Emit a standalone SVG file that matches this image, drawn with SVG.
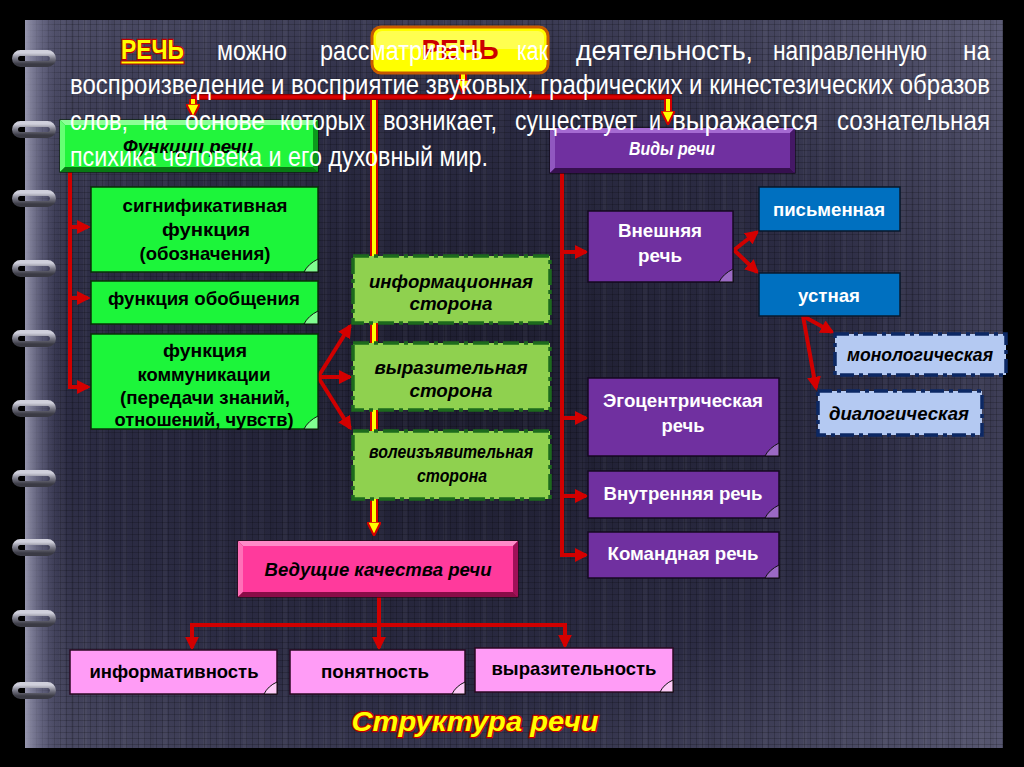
<svg xmlns="http://www.w3.org/2000/svg" width="1024" height="767" viewBox="0 0 1024 767">
<defs>
<radialGradient id="bg" cx="0.45" cy="0.52" r="0.75">
<stop offset="0" stop-color="#1c1c2e"/>
<stop offset="0.55" stop-color="#2c2c44"/>
<stop offset="1" stop-color="#5a5a74"/>
</radialGradient>
<linearGradient id="strip" x1="0" y1="0" x2="1" y2="0">
<stop offset="0" stop-color="#a0a0b8" stop-opacity="0.9"/>
<stop offset="0.5" stop-color="#6a6a88" stop-opacity="0.5"/>
<stop offset="1" stop-color="#4a4a66" stop-opacity="0"/>
</linearGradient>
<linearGradient id="ringg" x1="0" y1="0" x2="0" y2="1">
<stop offset="0" stop-color="#d0d0dc"/>
<stop offset="0.5" stop-color="#7a7a88"/>
<stop offset="1" stop-color="#3a3a44"/>
</linearGradient>
<pattern id="grid" width="6" height="6" patternUnits="userSpaceOnUse">
<path d="M0 0.5H6M0.5 0V6" stroke="#000" stroke-opacity="0.18" stroke-width="1"/>
</pattern>
<pattern id="stripes" width="40" height="10" patternUnits="userSpaceOnUse">
<rect x="3" y="0" width="4" height="10" fill="#fff" fill-opacity="0.03"/>
<rect x="19" y="0" width="6" height="10" fill="#fff" fill-opacity="0.025"/>
<rect x="31" y="0" width="3" height="10" fill="#000" fill-opacity="0.05"/>
</pattern>
<marker id="ar" viewBox="0 0 10 10" refX="8" refY="5" markerWidth="14" markerHeight="14" markerUnits="userSpaceOnUse" orient="auto">
<path d="M0,0 L10,5 L0,10 z" fill="#d40000"/>
</marker>
<marker id="ay" viewBox="0 0 10 10" refX="6" refY="5" markerWidth="14" markerHeight="14" markerUnits="userSpaceOnUse" orient="auto">
<path d="M0,0 L10,5 L0,10 z" fill="#ffff00" stroke="#d40000" stroke-width="1.5"/>
</marker>
<style>
.tx{font-family:"Liberation Sans",Arial,sans-serif}
.par{font-family:"Liberation Sans",Arial,sans-serif;font-size:28px;fill:#ffffff}
.tb{font-family:"Liberation Sans",Arial,sans-serif;font-weight:bold;font-size:19px;text-anchor:middle;fill:#000}
.tw{font-family:"Liberation Sans",Arial,sans-serif;font-weight:bold;font-size:19px;text-anchor:middle;fill:#fff}
.ti{font-family:"Liberation Sans",Arial,sans-serif;font-weight:bold;font-style:italic;font-size:19px;text-anchor:middle;fill:#000}
.gbox{fill:#1cf53a;stroke:#083008;stroke-width:1.5}
.lg{fill:#8fd14f;stroke:#1d6a1d;stroke-width:3.5;stroke-dasharray:16 5 4 5}
.pbox{fill:#7030a0;stroke:#140820;stroke-width:1.5}
.bbox{fill:#0070c0;stroke:#08182c;stroke-width:1.5}
.lb{fill:#b4c9f2;stroke:#0c2864;stroke-width:3.5;stroke-dasharray:14 5 4 5}
.pk{fill:#ff9cf6;stroke:#2a0822;stroke-width:1.5}
.curl{stroke:#111;stroke-width:1;fill-opacity:0.9}
.red{fill:none;stroke:#d00000;stroke-width:4}
.ylo{fill:none;stroke:#d40000;stroke-width:8}
.yli{fill:none;stroke:#ffff00;stroke-width:4}
.ring{fill:none;stroke:url(#ringg);stroke-width:6}
</style>
</defs>
<rect width="1024" height="767" fill="#000"/>
<g id="panel">
<rect x="25" y="20" width="978" height="728" fill="url(#bg)"/>
<rect x="25" y="20" width="978" height="728" fill="url(#stripes)"/>
<rect x="25" y="20" width="978" height="728" fill="url(#grid)"/>
<rect x="25" y="20" width="40" height="728" fill="url(#strip)"/>
</g>
<g id="rings">
<rect class="ring" x="15" y="53" width="38" height="11" rx="5.5"/>
<rect class="ring" x="15" y="124" width="38" height="11" rx="5.5"/>
<rect class="ring" x="15" y="193" width="38" height="11" rx="5.5"/>
<rect class="ring" x="15" y="263" width="38" height="11" rx="5.5"/>
<rect class="ring" x="15" y="333" width="38" height="11" rx="5.5"/>
<rect class="ring" x="15" y="403" width="38" height="11" rx="5.5"/>
<rect class="ring" x="15" y="473" width="38" height="11" rx="5.5"/>
<rect class="ring" x="15" y="542" width="38" height="11" rx="5.5"/>
<rect class="ring" x="15" y="613" width="38" height="11" rx="5.5"/>
<rect class="ring" x="15" y="685" width="38" height="11" rx="5.5"/>
</g>
<g id="connectors">
<path class="ylo" d="M374,97 V530"/>
<path class="yli" d="M374,97 V530" marker-end="url(#ay)"/>
<path class="ylo" d="M463,74 V88"/>
<path class="yli" d="M463,74 V88" marker-end="url(#ay)"/>
<path d="M191,97 H672" fill="none" stroke="#8a0000" stroke-width="6"/>
<path d="M191,97 H672" fill="none" stroke="#dd0000" stroke-width="3.5"/>
<path class="ylo" d="M193,99 V112"/>
<path class="yli" d="M193,99 V112" marker-end="url(#ay)"/>
<path class="ylo" d="M668,99 V119"/>
<path class="yli" d="M668,99 V119" marker-end="url(#ay)"/>
<path class="red" d="M70,172 V387"/>
<path class="red" d="M70,227 H88" marker-end="url(#ar)"/>
<path class="red" d="M70,298 H88" marker-end="url(#ar)"/>
<path class="red" d="M68,387 H88" marker-end="url(#ar)"/>
<path class="red" d="M318,377 L350,326" marker-end="url(#ar)"/>
<path class="red" d="M318,377 H350" marker-end="url(#ar)"/>
<path class="red" d="M318,377 L350,428" marker-end="url(#ar)"/>
<path class="red" d="M562,173 V555"/>
<path class="red" d="M562,252 H586" marker-end="url(#ar)"/>
<path class="red" d="M562,418 H586" marker-end="url(#ar)"/>
<path class="red" d="M562,496 H586" marker-end="url(#ar)"/>
<path class="red" d="M560,555 H586" marker-end="url(#ar)"/>
<path class="red" d="M734,250 L757,232" marker-end="url(#ar)"/>
<path class="red" d="M734,250 L757,272" marker-end="url(#ar)"/>
<path class="red" d="M803,316 L832,332" marker-end="url(#ar)"/>
<path class="red" d="M803,316 L816,388" marker-end="url(#ar)"/>
<path class="red" d="M379,597 V625"/>
<path class="red" d="M190,625 H567"/>
<path class="red" d="M192,623 V648" marker-end="url(#ar)"/>
<path class="red" d="M379,623 V648" marker-end="url(#ar)"/>
<path class="red" d="M565,623 V646" marker-end="url(#ar)"/>
</g>
<g id="rech-top">
<rect x="372" y="27" width="176" height="46" rx="9" fill="#ffff00" stroke="#c85a00" stroke-width="3"/>
<rect x="376" y="31" width="168" height="18" rx="6" fill="#ffffa0" fill-opacity="0.5"/>
<text class="tx" x="460" y="59" text-anchor="middle" font-size="28" font-weight="bold" fill="#cc0000">РЕЧЬ</text>
</g>
<g id="funkcii-rechi">
<rect x="60" y="120" width="258" height="52" fill="#12b424" stroke="#062006" stroke-width="1.2"/>
<polygon points="60,120 318,120 313,125 65,125" fill="#8cff96"/>
<polygon points="60,120 65,125 65,167 60,172" fill="#66ff74"/>
<polygon points="60,172 318,172 313,167 65,167" fill="#087a14"/>
<polygon points="318,120 318,172 313,167 313,125" fill="#0c9a1c"/>
<rect x="65" y="125" width="248" height="42" fill="#22f53c"/>
<text class="ti" x="188" y="153" font-size="18" textLength="130" lengthAdjust="spacingAndGlyphs">Функции речи</text>
</g>
<g id="vidy-rechi">
<rect x="550" y="128" width="245" height="45" fill="#5a2088" stroke="#100418" stroke-width="1.2"/>
<polygon points="550,128 795,128 790,133 555,133" fill="#a56ad2"/>
<polygon points="550,128 555,133 555,168 550,173" fill="#9058c0"/>
<polygon points="550,173 795,173 790,168 555,168" fill="#36104f"/>
<polygon points="795,128 795,173 790,168 790,133" fill="#451866"/>
<rect x="555" y="133" width="235" height="35" fill="#7030a0"/>
<text class="ti" x="672" y="155" font-size="18" style="fill:#fff" textLength="86" lengthAdjust="spacingAndGlyphs">Виды речи</text>
</g>
<g id="signifikativnaya">
<rect class="gbox" x="91" y="187" width="227" height="85"/>
<path class="curl" d="M304,272 Q308,264 318,259 L318,272 Z" fill="#8cff9a"/>
<text class="tb" x="205" y="212" textLength="165" lengthAdjust="spacingAndGlyphs">сигнификативная</text>
<text class="tb" x="206" y="236" textLength="88" lengthAdjust="spacingAndGlyphs">функция</text>
<text class="tb" x="205" y="260" textLength="131" lengthAdjust="spacingAndGlyphs">(обозначения)</text>
</g>
<g id="obobshcheniya">
<rect class="gbox" x="91" y="281" width="227" height="43"/>
<path class="curl" d="M304,324 Q308,316 318,311 L318,324 Z" fill="#8cff9a"/>
<text class="tb" x="204" y="305" textLength="192" lengthAdjust="spacingAndGlyphs">функция обобщения</text>
</g>
<g id="kommunikacii">
<rect class="gbox" x="91" y="334" width="227" height="95"/>
<path class="curl" d="M304,429 Q308,421 318,416 L318,429 Z" fill="#8cff9a"/>
<text class="tb" x="205" y="357" textLength="84" lengthAdjust="spacingAndGlyphs">функция</text>
<text class="tb" x="204" y="381" textLength="133" lengthAdjust="spacingAndGlyphs">коммуникации</text>
<text class="tb" x="205" y="404" textLength="170" lengthAdjust="spacingAndGlyphs">(передачи знаний,</text>
<text class="tb" x="204" y="426" textLength="179" lengthAdjust="spacingAndGlyphs">отношений, чувств)</text>
</g>
<g id="informacionnaya">
<rect class="lg" x="353" y="256" width="197" height="67"/>
<text class="ti" x="451" y="288" textLength="164" lengthAdjust="spacingAndGlyphs">информационная</text>
<text class="ti" x="451" y="310" textLength="83" lengthAdjust="spacingAndGlyphs">сторона</text>
</g>
<g id="vyrazitelnaya-storona">
<rect class="lg" x="353" y="343" width="197" height="67"/>
<text class="ti" x="451" y="374" textLength="153" lengthAdjust="spacingAndGlyphs">выразительная</text>
<text class="ti" x="451" y="397" textLength="83" lengthAdjust="spacingAndGlyphs">сторона</text>
</g>
<g id="voleizyavitelnaya">
<rect class="lg" x="353" y="431" width="197" height="68"/>
<text class="ti" x="451" y="458" font-size="15" textLength="164" lengthAdjust="spacingAndGlyphs">волеизъявительная</text>
<text class="ti" x="452" y="482" font-size="15" textLength="70" lengthAdjust="spacingAndGlyphs">сторона</text>
</g>
<g id="vneshnyaya">
<rect class="pbox" x="588" y="211" width="145" height="71"/>
<path class="curl" d="M719,282 Q723,274 733,269 L733,282 Z" fill="#a070c8"/>
<text class="tw" x="660" y="237" textLength="84" lengthAdjust="spacingAndGlyphs">Внешняя</text>
<text class="tw" x="660" y="262" textLength="44" lengthAdjust="spacingAndGlyphs">речь</text>
</g>
<g id="pismennaya">
<rect class="bbox" x="759" y="187" width="141" height="44"/>
<text class="tw" x="829" y="216" textLength="112" lengthAdjust="spacingAndGlyphs">письменная</text>
</g>
<g id="ustnaya">
<rect class="bbox" x="759" y="273" width="141" height="43"/>
<text class="tw" x="829" y="302" textLength="62" lengthAdjust="spacingAndGlyphs">устная</text>
</g>
<g id="monologicheskaya">
<rect class="lb" x="835" y="334" width="171" height="41"/>
<text class="ti" x="920" y="361" font-size="18" textLength="146" lengthAdjust="spacingAndGlyphs">монологическая</text>
</g>
<g id="dialogicheskaya">
<rect class="lb" x="818" y="391" width="164" height="44"/>
<text class="ti" x="899" y="420" font-size="18" textLength="140" lengthAdjust="spacingAndGlyphs">диалогическая</text>
</g>
<g id="egocentricheskaya">
<rect class="pbox" x="588" y="378" width="191" height="78"/>
<path class="curl" d="M765,456 Q769,448 779,443 L779,456 Z" fill="#a070c8"/>
<text class="tw" x="683" y="407" textLength="160" lengthAdjust="spacingAndGlyphs">Эгоцентрическая</text>
<text class="tw" x="683" y="432" textLength="43" lengthAdjust="spacingAndGlyphs">речь</text>
</g>
<g id="vnutrennyaya">
<rect class="pbox" x="588" y="471" width="191" height="47"/>
<path class="curl" d="M765,518 Q769,510 779,505 L779,518 Z" fill="#a070c8"/>
<text class="tw" x="683" y="500" textLength="159" lengthAdjust="spacingAndGlyphs">Внутренняя речь</text>
</g>
<g id="komandnaya">
<rect class="pbox" x="588" y="532" width="191" height="46"/>
<path class="curl" d="M765,578 Q769,570 779,565 L779,578 Z" fill="#a070c8"/>
<text class="tw" x="683" y="560" textLength="151" lengthAdjust="spacingAndGlyphs">Командная речь</text>
</g>
<g id="veduschie-kachestva">
<rect x="238" y="541" width="280" height="56" fill="#c0186a" stroke="#2a0414" stroke-width="1.2"/>
<polygon points="238,541 518,541 513,546 243,546" fill="#ff8ac8"/>
<polygon points="238,541 243,546 243,592 238,597" fill="#ff70b8"/>
<polygon points="238,597 518,597 513,592 243,592" fill="#8a0c48"/>
<polygon points="518,541 518,597 513,592 513,546" fill="#a01058"/>
<rect x="243" y="546" width="270" height="46" fill="#ff3a9c"/>
<text class="ti" x="378" y="576" font-size="18" textLength="227" lengthAdjust="spacingAndGlyphs">Ведущие качества речи</text>
</g>
<g id="informativnost">
<rect class="pk" x="70" y="650" width="207" height="44"/>
<path class="curl" d="M264,694 Q268,686 277,682 L277,694 Z" fill="#ffd0fa"/>
<text class="tb" x="174" y="678" textLength="169" lengthAdjust="spacingAndGlyphs">информативность</text>
</g>
<g id="ponyatnost">
<rect class="pk" x="290" y="650" width="175" height="44"/>
<path class="curl" d="M452,694 Q456,686 465,682 L465,694 Z" fill="#ffd0fa"/>
<text class="tb" x="375" y="678" textLength="108" lengthAdjust="spacingAndGlyphs">понятность</text>
</g>
<g id="vyrazitelnost">
<rect class="pk" x="475" y="648" width="198" height="44"/>
<path class="curl" d="M660,692 Q664,684 673,680 L673,692 Z" fill="#ffd0fa"/>
<text class="tb" x="574" y="675" textLength="165" lengthAdjust="spacingAndGlyphs">выразительность</text>
</g>
<g id="paragraph">
<rect x="121" y="61" width="63" height="3" fill="#ffff00" stroke="#c00000" stroke-width="1"/>
<text class="par" x="121" y="59" style="font-weight:bold;fill:#ffff00;stroke:#c00000;stroke-width:2.5;paint-order:stroke" textLength="63" lengthAdjust="spacingAndGlyphs">РЕЧЬ</text>
<text class="par" x="217" y="60" textLength="70" lengthAdjust="spacingAndGlyphs">можно</text>
<text class="par" x="320" y="60" textLength="163" lengthAdjust="spacingAndGlyphs">рассматривать</text>
<text class="par" x="517" y="60" textLength="31" lengthAdjust="spacingAndGlyphs">как</text>
<text class="par" x="576" y="60" textLength="177" lengthAdjust="spacingAndGlyphs">деятельность,</text>
<text class="par" x="773" y="60" textLength="154" lengthAdjust="spacingAndGlyphs">направленную</text>
<text class="par" x="963" y="60" textLength="27" lengthAdjust="spacingAndGlyphs">на</text>
<text class="par" x="70" y="94" textLength="920" lengthAdjust="spacingAndGlyphs">воспроизведение и восприятие звуковых, графических и кинестезических образов</text>
<text class="par" x="70" y="130" textLength="58" lengthAdjust="spacingAndGlyphs">слов,</text>
<text class="par" x="143" y="130" textLength="24" lengthAdjust="spacingAndGlyphs">на</text>
<text class="par" x="185" y="130" textLength="80" lengthAdjust="spacingAndGlyphs">основе</text>
<text class="par" x="280" y="130" textLength="85" lengthAdjust="spacingAndGlyphs">которых</text>
<text class="par" x="383" y="130" textLength="114" lengthAdjust="spacingAndGlyphs">возникает,</text>
<text class="par" x="515" y="130" textLength="122" lengthAdjust="spacingAndGlyphs">существует</text>
<text class="par" x="649" y="130" textLength="12" lengthAdjust="spacingAndGlyphs">и</text>
<text class="par" x="672" y="130" textLength="146" lengthAdjust="spacingAndGlyphs">выражается</text>
<text class="par" x="837" y="130" textLength="153" lengthAdjust="spacingAndGlyphs">сознательная</text>
<text class="par" x="70" y="166" textLength="418" lengthAdjust="spacingAndGlyphs">психика человека и его духовный мир.</text>
</g>
<g id="title">
<text class="tx" x="475" y="731" text-anchor="middle" font-size="28" font-weight="bold" font-style="italic" fill="#ffff00" stroke="#c00000" stroke-width="2.5" paint-order="stroke" textLength="247" lengthAdjust="spacingAndGlyphs">Структура речи</text>
</g>
</svg>
